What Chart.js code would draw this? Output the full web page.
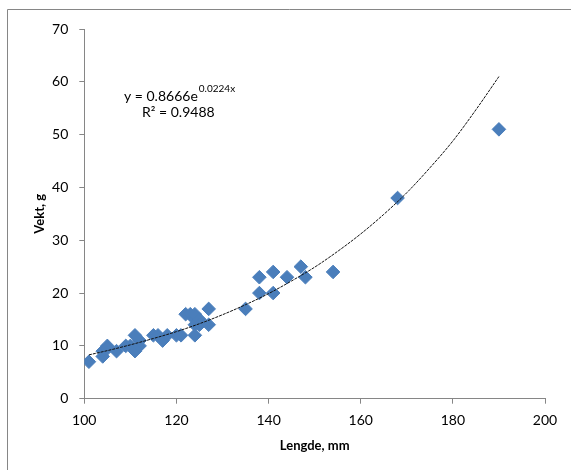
<!DOCTYPE html>
<html>
<head>
<meta charset="utf-8">
<script src="https://cdn.jsdelivr.net/npm/chart.js@4.4.0/dist/chart.umd.min.js"></script>
<style>
  html, body { margin: 0; padding: 0; background: #fff; }
  #wrap { width: 571px; height: 470px; position: relative; }
</style>
</head>
<body>
<div id="wrap"><canvas id="chart"></canvas></div>
<script>
// Lengde (mm) and vekt (g)
const lengde = [101, 104, 104, 105, 105, 107, 109, 110, 111, 111, 112, 112, 115, 116, 117, 118, 120, 121,
                122, 123, 124, 124, 124, 124, 125, 125, 127, 127, 135, 138, 138, 141, 141, 144, 147, 148,
                154, 168, 190];
const vekt = [7, 8, 9, 10, 9.5, 9, 10, 10, 12, 9, 10, 11, 12, 12, 11, 12, 12, 12,
              16, 16, 15, 14, 12, 16, 15, 14, 17, 14, 17, 23, 20, 24, 20, 23, 25, 23,
              24, 38, 51];

// points along the trendline
const trendX = [101, 105, 110, 115, 120, 125, 130, 135, 140, 145, 150, 155, 160, 165, 170, 175, 180, 185, 190];
const trendY = [8.3, 9.1, 10.2, 11.4, 12.7, 14.2, 15.9, 17.8, 19.9, 22.3, 24.9, 27.9, 31.2, 34.9, 39.0, 43.7, 48.8, 54.7, 61.0];

const xTicks = [100, 120, 140, 160, 180, 200];
const yTicks = [0, 10, 20, 30, 40, 50, 60, 70];

const eqMain = 'y = 0.8666e';
const eqExp = '0.0224x';
const eqR2 = 'R\u00b2 = 0.9488';

const FONT = 'Lato, "Open Sans", sans-serif';
const AXIS = '#868686';

const extras = {
  id: 'extras',
  afterDraw(chart) {
    const ctx = chart.ctx;
    ctx.save();
    // outer chart border (left and top only show in the picture)
    ctx.strokeStyle = AXIS;
    ctx.lineWidth = 1;
    ctx.beginPath();
    ctx.moveTo(7.5, 470);
    ctx.lineTo(7.5, 9.5);
    ctx.lineTo(571, 9.5);
    ctx.stroke();
    // trendline label
    ctx.fillStyle = '#000';
    ctx.textBaseline = 'middle';
    ctx.font = '14px ' + FONT;
    ctx.fillText(eqMain, 124, 96);
    const w = ctx.measureText(eqMain).width;
    ctx.font = '10px ' + FONT;
    ctx.fillText(eqExp, 124 + w + 1, 89);
    ctx.font = '14px ' + FONT;
    ctx.fillText(eqR2, 142, 112);
    ctx.restore();
  }
};

new Chart(document.getElementById('chart'), {
  type: 'scatter',
  data: {
    datasets: [
      {
        label: 'Trend',
        data: trendX.map((x, i) => ({ x: x, y: trendY[i] })),
        showLine: true,
        borderColor: '#111',
        borderWidth: 1,
        borderDash: [3, 1],
        pointRadius: 0,
        cubicInterpolationMode: 'monotone',
        order: 0
      },
      {
        label: 'Vekt',
        data: lengde.map((x, i) => ({ x: x, y: vekt[i] })),
        pointStyle: 'rectRot',
        pointRadius: 6.8,
        backgroundColor: '#4a7ebb',
        borderColor: '#4a7ebb',
        borderWidth: 1,
        order: 1
      }
    ]
  },
  options: {
    responsive: true,
    maintainAspectRatio: false,
    animation: false,
    layout: { padding: { left: 0, right: 26, top: 29, bottom: 0 } },
    plugins: {
      legend: { display: false },
      tooltip: { enabled: false }
    },
    scales: {
      x: {
        type: 'linear',
        min: 100,
        max: 200,
        afterBuildTicks: s => { s.ticks = xTicks.map(v => ({ value: v })); },
        afterFit: s => { s.height = 71.3; },
        grid: { display: true, drawOnChartArea: false, drawTicks: true, tickLength: 5, color: AXIS },
        border: { display: true, color: AXIS },
        ticks: { color: '#000', font: { family: FONT, size: 14 }, padding: 8 },
        title: {
          display: true,
          text: 'Lengde, mm',
          color: '#000',
          font: { family: FONT, size: 13, weight: 'bold' },
          padding: { top: 0, bottom: 16 }
        }
      },
      y: {
        type: 'linear',
        min: 0,
        max: 70,
        afterBuildTicks: s => { s.ticks = yTicks.map(v => ({ value: v })); },
        afterFit: s => { s.width = 84.3; },
        grid: { display: true, drawOnChartArea: false, drawTicks: true, tickLength: 5, color: AXIS },
        border: { display: true, color: AXIS },
        ticks: { color: '#000', font: { family: FONT, size: 14 }, padding: 11 },
        title: {
          display: true,
          text: 'Vekt, g',
          color: '#000',
          font: { family: FONT, size: 13, weight: 'bold' },
          padding: { top: 32, bottom: 0 }
        }
      }
    }
  },
  plugins: [extras]
});
</script>
</body>
</html>
